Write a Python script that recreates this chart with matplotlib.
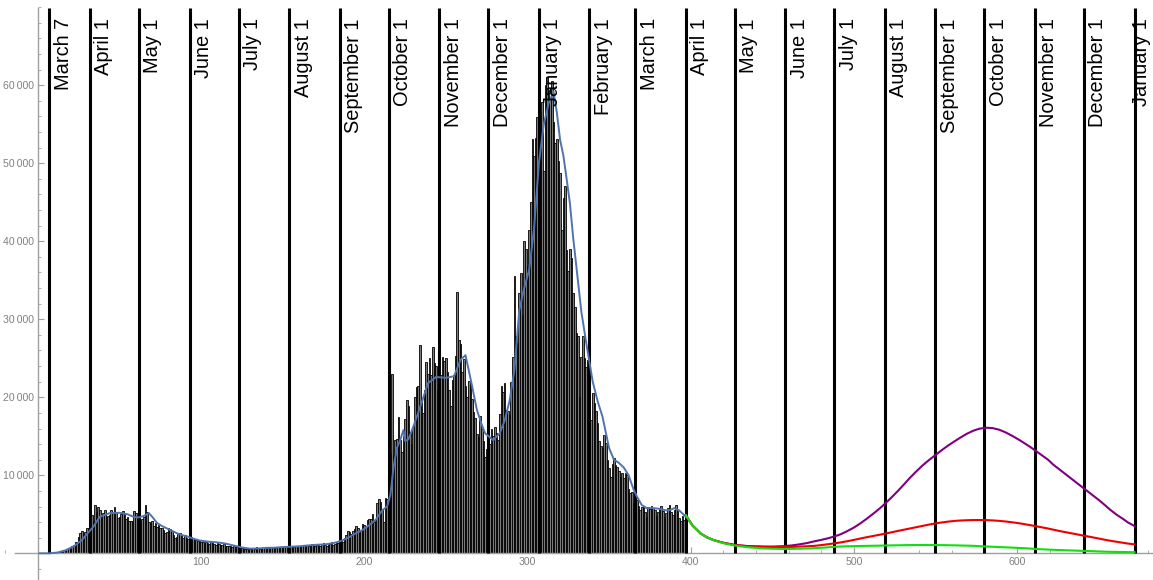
import numpy as np
import matplotlib
matplotlib.use("Agg")
import matplotlib.pyplot as plt
from matplotlib.ticker import MultipleLocator, FixedLocator

# daily cases, day 1 = March 1 2020
daily = [
    5, 10, 15, 20, 30, 40, 50, 60, 70, 80,
    100, 130, 170, 230, 300, 380, 450, 550, 650, 750,
    900, 1100, 1450, 1500, 2100, 2600, 2900, 2500, 2700, 3300,
    3200, 4600, 4900, 4200, 6200, 5300, 5900, 5600, 4500, 5200,
    5600, 4700, 4800, 4900, 5500, 5200, 5900, 5300, 4500, 4700,
    5000, 5400, 5200, 4400, 4700, 4100, 4200, 4200, 5400, 5200,
    4700, 4600, 4200, 4400, 4600, 6200, 5300, 4000, 3900, 4100,
    3500, 3900, 3400, 3600, 3300, 3200, 3000, 2600, 2700, 3300,
    3100, 2800, 2400, 1900, 2100, 2500, 2600, 2400, 2000, 2300,
    2000, 1800, 1700, 2100, 2000, 1800, 1650, 1600, 1700, 1500,
    1400, 1350, 1500, 1300, 1200, 1450, 1300, 1200, 1100, 1300,
    1250, 1100, 1050, 1200, 1000, 950, 1000, 900, 850, 900,
    800, 750, 700, 700, 650, 650, 600, 600, 700, 600,
    550, 650, 600, 750, 700, 600, 650, 700, 650, 550,
    650, 700, 750, 700, 650, 700, 750, 750, 800, 700,
    750, 850, 800, 880, 900, 800, 850, 950, 900, 1000,
    850, 950, 1050, 900, 1100, 1000, 950, 1150, 1200, 1000,
    1100, 1050, 1000, 1150, 1300, 1100, 1000, 1200, 1250, 1400,
    1100, 1200, 1500, 1300, 1700, 1600, 1400, 1950, 2400, 2900,
    2700, 2500, 2800, 3100, 3500, 3300, 2600, 3000, 3800, 3600,
    3400, 4300, 4400, 4400, 5000, 4000, 4100, 6400, 6900, 6600,
    5700, 4000, 7100, 7000, 6800, 12800, 23000, 12600, 14500, 14600,
    17500, 14500, 13000, 15000, 17200, 19700, 18900, 15500, 14000, 16200,
    20000, 21300, 21500, 26700, 19700, 18000, 21000, 24500, 23000, 25000,
    22900, 26500, 24400, 24000, 20900, 18900, 22900, 25200, 24700, 25100,
    23200, 21000, 18900, 22200, 22800, 25300, 33500, 27300, 26800, 23300,
    24900, 21400, 20100, 22100, 21600, 19800, 18100, 17400, 15300, 14900,
    17600, 16000, 14400, 12300, 13400, 12200, 14000, 16000, 15000, 16200,
    15400, 14500, 17900, 21500, 20700, 21800, 18400, 18300, 17700, 21900,
    25200, 35500, 27900, 27000, 33400, 35900, 30500, 40000, 39000, 36800,
    41400, 45000, 53100, 50900, 53200, 55900, 54400, 56600, 57800, 49000,
    60000, 61000, 59400, 58300, 60500, 55300, 52600, 53100, 50300, 48700,
    41400, 45500, 47100, 38900, 36200, 39000, 37900, 33400, 31600, 28200,
    27800, 20100, 25200, 27800, 25000, 23900, 24800, 18600, 17100, 20600,
    19300, 18300, 16700, 14400, 13700, 13500, 15200, 14100, 12000, 10900,
    9800, 11500, 12200, 11300, 11100, 10600, 9800, 10300, 9600, 10250,
    10100, 8300, 7700, 7900, 6400, 6600, 6800, 6100, 5600, 5900,
    5900, 5300, 4600, 5900, 5700, 6100, 5800, 5600, 4800, 5300,
    5700, 6100, 5400, 4600, 5200, 5800, 6200, 5300, 4900, 5600,
    6200, 5400, 4500, 4200, 4800, 4300,
]

# smoothed line
avg_days = [1, 7, 12, 17, 22, 27, 31, 34, 38, 44,
            50, 55, 59, 62, 65, 68, 70, 73, 76, 79,
            82, 85, 88, 91, 95, 99, 104, 110, 115, 120,
            125, 130, 135, 140, 145, 150, 155, 160, 165, 171,
            176, 181, 186, 191, 195, 199, 203, 207, 211, 214,
            216, 218, 220, 222, 224, 225, 227, 230, 235, 239,
            244, 250, 255, 259, 262, 264, 266, 269, 272, 274,
            279, 283, 286, 289, 292, 295, 298, 301, 304, 307,
            310, 313, 316, 318, 320, 322, 324, 326, 328, 330,
            333, 336, 340, 343, 346, 350, 353, 356, 359, 362,
            365, 367, 370, 373, 377, 381, 385, 388, 390, 393, 397]
avg_vals = [0, 0, 100, 400, 900, 1700, 2700, 3400, 4700, 5150,
            5200, 5000, 4650, 4600, 4800, 5150, 4700, 3900, 3500, 3200,
            2900, 2600, 2350, 2200, 1900, 1650, 1500, 1400, 1250, 1000,
            750, 600, 620, 700, 720, 800, 850, 900, 1000, 1100,
            1150, 1300, 1600, 2100, 2600, 3000, 3600, 4300, 5500, 6000,
            7500, 11100, 13500, 14500, 15800, 14400, 14600, 16200, 19200, 21800,
            22600, 22500, 22700, 24800, 25400, 23500, 21500, 18400, 16500, 15400,
            14500, 15400, 17000, 19500, 23500, 31200, 34000, 36300, 41500, 50000,
            55000, 57700, 59200, 56500, 53000, 51000, 48000, 44900, 40500, 36700,
            31000, 27000, 22000, 19500, 17500, 13500, 12000, 11600, 11000, 10000,
            8200, 7300, 6200, 5800, 5800, 5700, 5500, 5600, 5800, 5500, 4700]

# projections
proj_days = [397, 401, 406, 410, 414, 420, 427, 435, 444, 450,
             457, 462, 466, 471, 475, 480, 484, 488, 492, 496,
             500, 504, 508, 512, 516, 519, 523, 527, 531, 534,
             538, 542, 546, 550, 554, 558, 562, 565, 569, 573,
             577, 581, 585, 589, 593, 598, 602, 605, 608, 611,
             615, 619, 622, 626, 630, 634, 638, 642, 646, 650,
             654, 657, 661, 665, 668, 672]
proj_purple = [4900, 3600, 2560, 2050, 1700, 1350, 1080, 930, 870, 860,
               920, 1010, 1130, 1300, 1500, 1720, 1920, 2150, 2450, 2850,
               3300, 3840, 4450, 5100, 5780, 6350, 7150, 8000, 8900, 9600,
               10450, 11250, 11950, 12600, 13250, 13850, 14400, 14800, 15300, 15700,
               15980, 16100, 16050, 15850, 15500, 14950, 14450, 14050, 13650, 13200,
               12600, 12000, 11400, 10750, 10100, 9450, 8800, 8150, 7500, 6850,
               6150, 5600, 4950, 4400, 3950, 3500]
proj_red = [4900, 3600, 2560, 2050, 1700, 1350, 1060, 900, 830, 810,
            800, 820, 860, 900, 940, 1050, 1160, 1280, 1400, 1550,
            1720, 1900, 2070, 2230, 2390, 2520, 2690, 2870, 3040, 3170,
            3340, 3510, 3680, 3840, 3960, 4070, 4160, 4200, 4240, 4265,
            4270, 4260, 4220, 4160, 4080, 3950, 3830, 3720, 3610, 3500,
            3340, 3180, 3040, 2860, 2700, 2540, 2380, 2220, 2060, 1900,
            1730, 1620, 1480, 1350, 1250, 1150]
proj_green = [4900, 3600, 2560, 2050, 1700, 1300, 1000, 780, 640, 590,
              560, 570, 590, 620, 650, 710, 770, 830, 870, 900,
              920, 940, 955, 970, 985, 1000, 1015, 1030, 1045, 1055,
              1062, 1065, 1065, 1060, 1050, 1035, 1020, 1005, 985, 960,
              920, 870, 840, 800, 770, 720, 680, 650, 610, 570,
              520, 480, 450, 420, 390, 360, 330, 300, 270, 240,
              210, 190, 175, 165, 155, 150]

month_days = [7, 32, 62, 93, 123, 154, 185, 215, 246, 276, 307, 338, 366,
              397, 427, 458, 488, 519, 550, 580, 611, 641, 672]
month_labels = ["March 7", "April 1", "May 1", "June 1", "July 1", "August 1",
                "September 1", "October 1", "November 1", "December 1", "January 1",
                "February 1", "March 1", "April 1", "May 1", "June 1", "July 1",
                "August 1", "September 1", "October 1", "November 1", "December 1",
                "January 1"]

fig = plt.figure(figsize=(11.53, 5.8), dpi=100)
ax = fig.add_axes([0, 0, 1, 1])

days = np.arange(1, len(daily) + 1)
ax.bar(days, daily, width=1.0, color='#7a7a7a', edgecolor='black', linewidth=0.6, zorder=2)
ax.plot(avg_days, avg_vals, color='#4f74ad', lw=1.4, zorder=4)

ax.vlines(month_days, 0, 69900, colors='black', lw=2.2, zorder=3)

ax.plot(proj_days, proj_purple, color='#800080', lw=1.5, zorder=5)
ax.plot(proj_days, proj_red, color='#ee0000', lw=1.5, zorder=5)
ax.plot(proj_days, proj_green, color='#11dd11', lw=1.5, zorder=6)

for d, lab in zip(month_days, month_labels):
    # last label has to stay inside the frame
    ax.text(min(d + 8.5, 676.5), 68600, lab, rotation=90, ha='center', va='top',
            fontsize=14.4, family='Liberation Sans', color='black', zorder=7)

ax.set_xlim(-23.2, 683.3)
ax.set_ylim(-3420, 70930)

for s in ['top', 'right']:
    ax.spines[s].set_visible(False)
ax.spines['left'].set_position(('data', 0))
ax.spines['bottom'].set_position(('data', 0))
ax.spines['left'].set_bounds(-3420, 69900)
ax.spines['bottom'].set_bounds(-14, 683.3)
for s in ['left', 'bottom']:
    ax.spines[s].set_color('#a0a0a0')
    ax.spines[s].set_linewidth(1)

ax.xaxis.set_major_locator(FixedLocator([100, 200, 300, 400, 500, 600]))
ax.xaxis.set_minor_locator(MultipleLocator(20))
ax.yaxis.set_major_locator(FixedLocator([10000, 20000, 30000, 40000, 50000, 60000]))
ax.yaxis.set_minor_locator(MultipleLocator(2000))
ax.set_yticklabels([f"{v // 1000}\u2009000" for v in [10000, 20000, 30000, 40000, 50000, 60000]])

ax.tick_params(which='both', direction='in', color='#a0a0a0', labelcolor='#808080',
               labelsize=7.6, pad=3)
ax.tick_params(which='major', length=4, width=0.8)
ax.tick_params(which='minor', length=2.5, width=0.6)
for t in ax.get_xticklabels() + ax.get_yticklabels():
    t.set_family('Liberation Sans')

fig.savefig('out.png', dpi=100)
